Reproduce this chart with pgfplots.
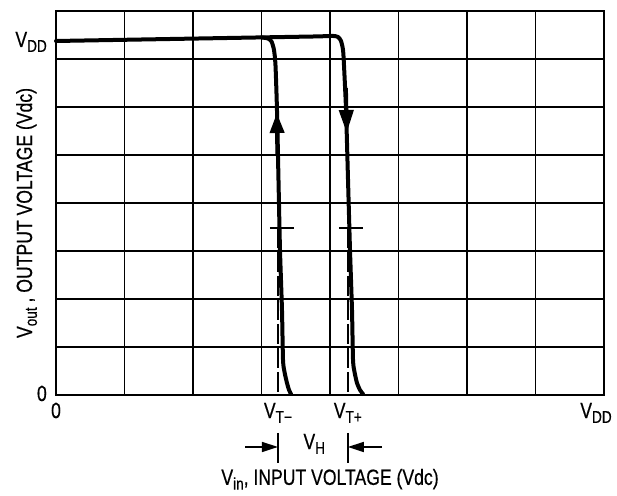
\documentclass[border=0pt]{standalone}
\usepackage{pgfplots}
\pgfplotsset{compat=1.18}
\usetikzlibrary{arrows.meta}
\usepackage{fontspec}
\setmainfont{Liberation Sans}[FakeStretch=0.8, FakeBold=0.5]
\newcommand\sub[1]{\raisebox{-0.22em}{\fontsize{17pt}{18pt}\selectfont #1}}
\newcommand\lbl{\fontsize{22pt}{26pt}\selectfont}

\begin{document}
\lbl
\begin{tikzpicture}
\useasboundingbox (0,0) rectangle (617pt,495pt);
\begin{axis}[
  at={(56pt,100pt)}, anchor=south west,
  scale only axis, width=548pt, height=384pt,
  xmin=0, xmax=8, ymin=0, ymax=8,
  clip=false,
  axis line style={line width=1.4pt},
  xtick={0,3.24,4.26}, xticklabels={0, V\sub{T−}, V\sub{T+}},
  extra x ticks={8}, extra x tick labels={V\sub{DD}},
  extra x tick style={xticklabel style={xshift=-8pt}},
  ytick={0,7.375}, yticklabels={0, V\sub{DD}},
  minor xtick={1,...,7}, minor ytick={1,...,7},
  grid=minor, minor grid style={black, line width=1.4pt},
  major tick length=0pt, minor tick length=0pt,
  xticklabel style={anchor=base, inner sep=0pt, yshift=-23pt, font=\lbl},
  yticklabel style={anchor=base east, inner sep=0pt, xshift=-9pt, yshift=-6pt, font=\lbl},
  xlabel={V\sub{in}, INPUT VOLTAGE (Vdc)},
  xlabel style={at={(axis description cs:0.5,-0.234)}, anchor=base, inner sep=0pt, font=\lbl},
  ylabel={V\sub{out} , OUTPUT VOLTAGE (Vdc)},
  ylabel style={at={(axis description cs:-0.0438,0.474)}, anchor=base, inner sep=0pt, font=\lbl},
]

% thick left and bottom axis lines
\draw[line width=2.6pt] (rel axis cs:0,1) -- (rel axis cs:0,0) -- (rel axis cs:1,0);

% dashed threshold lines
\addplot[line width=1.5pt, dash pattern=on 20pt off 4pt] coordinates {(3.24,3.48) (3.24,0)};
\addplot[line width=1.5pt, dash pattern=on 20pt off 4pt] coordinates {(4.26,3.48) (4.26,0)};

% falling branch (V_T+)
\addplot[line width=4pt, smooth, tension=0.4, line join=round, line cap=round] coordinates {
  (0,7.375) (1,7.40) (2,7.425) (3,7.45) (3.8,7.47) (4.044,7.48)
  (4.117,7.458) (4.161,7.375) (4.190,7.188) (4.204,6.875) (4.234,5.938)
  (4.263,4.479) (4.292,3.021) (4.321,1.771) (4.336,0.729) (4.358,0.479)
  (4.394,0.25) (4.438,0.104) (4.482,0.02)
};

% rising branch (V_T-)
\addplot[line width=4pt, smooth, tension=0.4, line join=round, line cap=round] coordinates {
  (3.0,7.45) (3.095,7.427) (3.146,7.365) (3.182,7.19) (3.204,6.875)
  (3.226,5.938) (3.248,4.479) (3.270,3.021) (3.299,1.771) (3.314,0.729)
  (3.336,0.479) (3.372,0.25) (3.402,0.104) (3.431,0.02)
};

% direction arrows
\addplot[line width=4pt, -{Triangle[length=20pt,width=14pt]}] coordinates {(3.232,5.0) (3.224,5.875)};
\addplot[line width=4pt, -{Triangle[length=23pt,width=14pt]}] coordinates {(4.232,6.4) (4.244,5.458)};

% crossing marks
\addplot[line width=1.5pt] coordinates {(3.124,3.48) (3.474,3.48)};
\addplot[line width=1.5pt] coordinates {(4.131,3.48) (4.482,3.48)};

% hysteresis width marker
\addplot[line width=1.5pt] coordinates {(3.24,-0.79) (3.24,-1.417)};
\addplot[line width=1.5pt] coordinates {(4.26,-0.79) (4.26,-1.417)};
\addplot[line width=1.5pt, -{Triangle[length=16pt,width=10pt]}] coordinates {(2.76,-1.083) (3.24,-1.083)};
\addplot[line width=1.5pt, -{Triangle[length=16pt,width=10pt]}] coordinates {(4.76,-1.083) (4.26,-1.083)};
\node[anchor=base, inner sep=0pt, font=\lbl] at (axis cs:3.77,-1.125) {V\sub{H}};

\end{axis}
\end{tikzpicture}
\end{document}
